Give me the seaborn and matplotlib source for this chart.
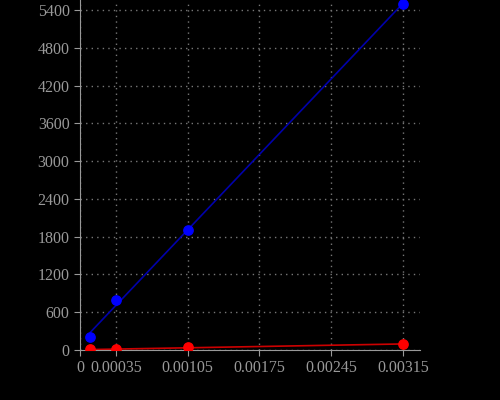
import numpy as np
import matplotlib.pyplot as plt
import seaborn as sns

x_vals = [0.0001, 0.00035, 0.00105, 0.00315]
blue_vals = [200, 800, 1900, 5500]
red_vals = [8, 10, 40, 95]
x_ticks = [0, 0.00035, 0.00105, 0.00175, 0.00245, 0.00315]
x_labels = ['0', '0.00035', '0.00105', '0.00175', '0.00245', '0.00315']
y_ticks = list(range(0, 5401, 600))

sns.set_style('dark')
plt.rcParams['font.family'] = ['Liberation Serif', 'DejaVu Serif']

fig = plt.figure(figsize=(5, 4), dpi=100, facecolor='black')
ax = fig.add_axes([0.16, 0.125, 0.68, 0.875])
ax.set_facecolor('black')

sns.regplot(x=x_vals, y=blue_vals, ax=ax, ci=None, truncate=True,
            scatter_kws={'color': '#0000ff', 's': 45, 'zorder': 3, 'alpha': 1},
            line_kws={'color': '#0000aa', 'lw': 1.2})
sns.regplot(x=x_vals, y=red_vals, ax=ax, ci=None, truncate=True,
            scatter_kws={'color': '#ff0000', 's': 45, 'zorder': 3, 'alpha': 1},
            line_kws={'color': '#cc0000', 'lw': 1.2})

ax.set_xlim(0, 0.003317)
ax.set_ylim(0, 5560)
ax.set_xticks(x_ticks)
ax.set_xticklabels(x_labels)
ax.set_yticks(y_ticks)
ax.grid(True, color='#777777', linestyle=(0, (1, 3)), linewidth=1)
ax.tick_params(colors='#999999', labelsize=11.5, length=4, direction='out', left=True, bottom=True)
for side in ['top', 'right']:
    ax.spines[side].set_visible(False)
for side in ['left', 'bottom']:
    ax.spines[side].set_visible(True)
    ax.spines[side].set_color('#999999')
ax.set_xlabel('')
ax.set_ylabel('')

fig.savefig('out.png', facecolor='black')
